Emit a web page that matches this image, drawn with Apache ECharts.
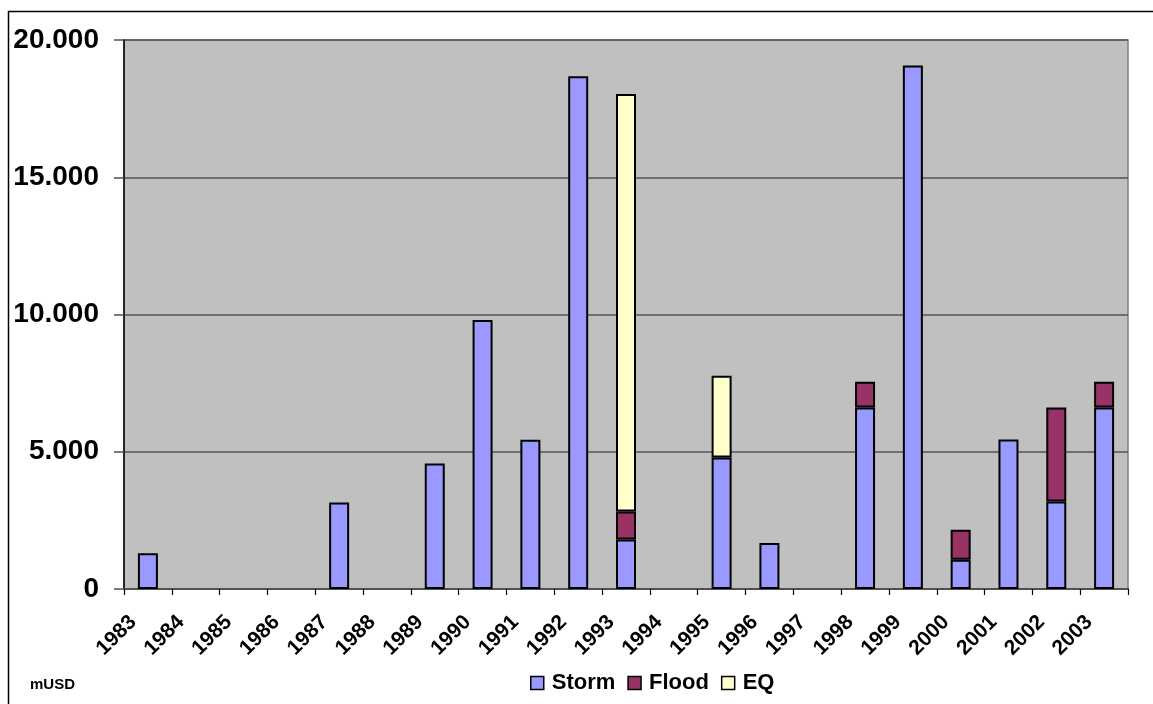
<!DOCTYPE html>
<html>
<head>
<meta charset="utf-8">
<style>
  html, body { margin: 0; padding: 0; background: #fff; }
  #chart { width: 1153px; height: 704px; }
</style>
<script src="https://cdn.jsdelivr.net/npm/echarts@6/dist/echarts.min.js"></script>
</head>
<body>
<div id="chart"></div>
<script>
// Insured losses per year by peril, in million USD
const years = ['1983','1984','1985','1986','1987','1988','1989','1990','1991','1992','1993',
               '1994','1995','1996','1997','1998','1999','2000','2001','2002','2003'];
const storm = [1300, null, null, null, 3150, null, 4570, 9800, 5440, 18680, 1800,
               null, 4790, 1680, null, 6610, 19070, 1070, 5450, 3190, 6610];
const flood = [null, null, null, null, null, null, null, null, null, null, 1020,
               null, null, null, null, 940, null, 1090, null, 3420, 940];
const eq    = [null, null, null, null, null, null, null, null, null, null, 15210,
               null, 2980, null, null, null, null, null, null, null, null];
const yTicks = { min: 0, max: 20000, step: 5000 };

const FONT = '"Liberation Sans", Arial, sans-serif';

// Thousands separated with a dot: 20000 -> 20.000
function dotThousands(v) {
  return String(Math.round(v)).replace(/\B(?=(\d{3})+(?!\d))/g, '.');
}

const barStyle = (color) => ({ color: color, borderColor: '#000', borderWidth: 2 });

const chart = echarts.init(document.getElementById('chart'), null, { renderer: 'canvas' });
chart.setOption({
  animation: false,
  backgroundColor: '#fff',
  textStyle: { fontFamily: FONT },
  graphic: [
    { type: 'rect', shape: { x: 8.5, y: 11.5, width: 1200, height: 760 },
      style: { fill: null, stroke: '#000', lineWidth: 1.5 }, silent: true },
    { type: 'text', left: 30, top: 677,
      style: { text: 'mUSD', fontFamily: FONT, fontWeight: 'bold', fontSize: 15, fill: '#000' } }
  ],
  grid: {
    left: 124, right: 25, top: 40, bottom: 115,
    show: true, backgroundColor: '#C0C0C0', borderColor: '#808080', borderWidth: 1.5
  },
  legend: {
    bottom: 5, left: 525,
    itemWidth: 13, itemHeight: 13, itemGap: 12,
    icon: 'rect',
    itemStyle: { borderColor: '#000', borderWidth: 1.5 },
    textStyle: { fontFamily: FONT, fontWeight: 'bold', fontSize: 22, color: '#000', padding: [0, 0, 0, 3] },
    data: ['Storm', 'Flood', 'EQ']
  },
  xAxis: {
    type: 'category',
    data: years,
    boundaryGap: true,
    axisLine: { lineStyle: { color: '#505050', width: 2 } },
    axisTick: { show: true, alignWithLabel: false, length: 6, lineStyle: { color: '#000', width: 1.2 } },
    axisLabel: {
      interval: 0, rotate: 45, margin: 15,
      padding: [0, 21, 0, 0],
      fontFamily: FONT, fontWeight: 'bold', fontSize: 21, color: '#000'
    },
    splitLine: { show: false }
  },
  yAxis: {
    type: 'value',
    min: yTicks.min, max: yTicks.max, interval: yTicks.step,
    axisLine: { show: true, lineStyle: { color: '#000', width: 1.5 } },
    axisTick: { show: true, length: 10, lineStyle: { color: '#505050', width: 1.5 } },
    axisLabel: {
      margin: 25, formatter: dotThousands,
      fontFamily: FONT, fontWeight: 'bold', fontSize: 28, color: '#000'
    },
    splitLine: { show: true, lineStyle: { color: '#555', width: 1.5 } }
  },
  series: [
    { name: 'Storm', type: 'bar', stack: 'loss', barWidth: 20, data: storm, itemStyle: barStyle('#9999FF') },
    { name: 'Flood', type: 'bar', stack: 'loss', barWidth: 20, data: flood, itemStyle: barStyle('#993366') },
    { name: 'EQ',    type: 'bar', stack: 'loss', barWidth: 20, data: eq,    itemStyle: barStyle('#FFFFCC') }
  ]
});
</script>
</body>
</html>
